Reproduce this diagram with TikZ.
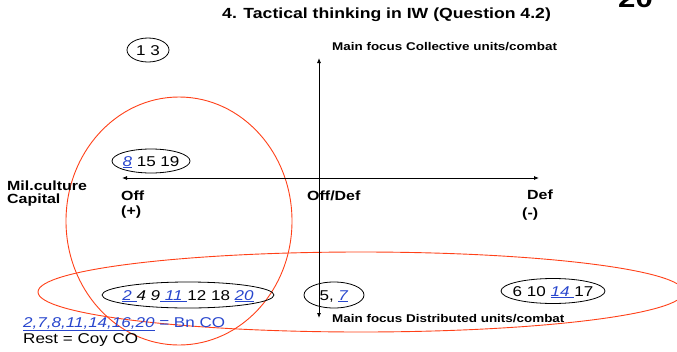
\documentclass[tikz,border=0pt]{standalone}
\usepackage{fontspec}
\setmainfont{Liberation Sans}[FakeStretch=1.2]
\usetikzlibrary{arrows.meta}

\definecolor{numblue}{RGB}{40,70,205}
\definecolor{ringred}{RGB}{255,64,24}
\newcommand{\bn}[1]{\textcolor{numblue}{\underline{\textit{#1}}}}

\tikzset{
  lbl/.style={font=\bfseries\fontsize{13.3}{15}\selectfont, inner sep=0pt, anchor=base west},
  focus/.style={font=\bfseries\fontsize{11.2}{13}\selectfont, inner sep=0pt, anchor=base west},
  txt/.style={font=\fontsize{14.2}{16}\selectfont, inner sep=0pt, anchor=base west},
  num/.style={font=\fontsize{14.2}{16}\selectfont, inner sep=0pt, anchor=base},
  oval/.style={draw, line width=0.8pt},
  ring/.style={draw=ringred, line width=0.9pt},
  axis/.style={line width=0.8pt, {Latex[length=5pt,width=4pt]}-{Latex[length=5pt,width=4pt]}}
}

\begin{document}
\begin{tikzpicture}[x=1pt, y=-1pt]
\useasboundingbox (0,0) rectangle (677,351);

% red groupings
\draw[ring] (179,221) ellipse [x radius=113, y radius=124];
\draw[ring] (361,292) ellipse [x radius=323, y radius=40];

% axes
\coordinate (ytop) at (319,58);
\coordinate (ybot) at (319,318);
\coordinate (xleft) at (122,178);
\coordinate (xright) at (539,178);
\draw[axis] (ybot) -- (ytop);
\draw[axis] (xleft) -- (xright);

% headings
\node[font=\bfseries\fontsize{14.7}{17}\selectfont, inner sep=0pt, anchor=base west] (title) at (222,18) {4. Tactical thinking in IW (Question 4.2)};
\node[font=\bfseries\fontsize{26}{30}\selectfont, inner sep=0pt, anchor=base west] (page) at (618,7) {20};

% axis labels
\node[focus] (coll) at (332,50) {Main focus Collective units/combat};
\node[focus] (dist) at (332,322) {Main focus Distributed units/combat};
\node[lbl] (mil) at (7,190) {Mil.culture};
\node[lbl] (capital) at (7,203) {Capital};
\node[lbl] (off) at (121,200) {Off};
\node[lbl] (offplus) at (121,215) {(+)};
\node[lbl] (offdef) at (307,200) {Off/Def};
\node[lbl] (def) at (527,199) {Def};
\node[lbl] (defminus) at (522,217) {(-)};

% answer groups
\node[num] (g13) at (148,55) {1 3};
\draw[oval] ([yshift=5pt]g13.base) ellipse [x radius=21, y radius=12];
\node[num] (g8) at (151,166) {\bn{8} 15 19};
\draw[oval] ([yshift=5pt]g8.base) ellipse [x radius=39, y radius=12];
\node[num] (g2) at (188,300) {\bn{2 }\textit{4 9}\bn{ 11 }12 18 \bn{20}};
\draw[oval] ([yshift=5pt]g2.base) ellipse [x radius=86, y radius=13];
\node[num] (g5) at (334,300) {5, \bn{7}};
\draw[oval] ([yshift=5pt]g5.base) ellipse [x radius=30, y radius=13];
\node[num] (g6) at (553,296) {6 10 \bn{14 }17};
\draw[oval] ([yshift=5pt]g6.base) ellipse [x radius=52, y radius=12.5];

% legend
\node[txt, text=numblue] (bnco) at (23,327) {\underline{\textit{2,7,8,11,14,16,20}} = Bn CO};
\node[txt] (rest) at (23,343) {Rest = Coy CO};

\end{tikzpicture}
\end{document}
